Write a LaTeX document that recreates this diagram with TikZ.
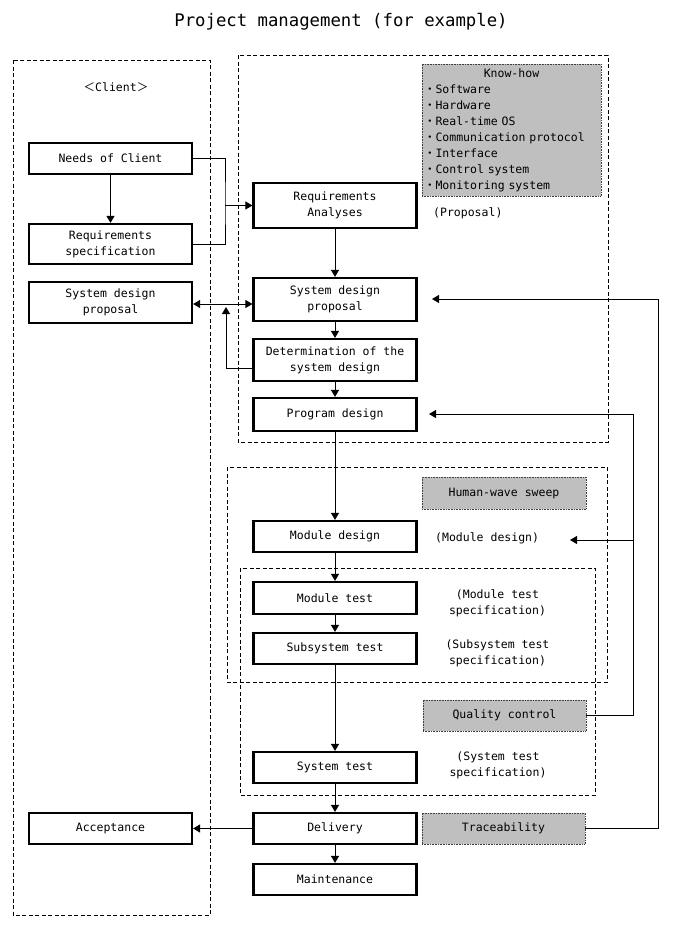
\documentclass[tikz,border=0pt]{standalone}
\usepackage{fontspec}
\setmainfont{DejaVu Sans Mono}
\newfontfamily\cjk{Noto Sans CJK JP}
\usetikzlibrary{arrows.meta}
\newcommand\diafont{\fontsize{11.5}{16}\selectfont}
\begin{document}
\begin{tikzpicture}[x=1pt,y=-1pt,
  box/.style={draw, line width=2.2pt, fill=white, minimum width=163pt, align=center, inner sep=0pt, font=\diafont},
  gbox/.style={draw=black!75, densely dotted, line width=0.6pt, fill=black!25, inner sep=0pt, font=\diafont, align=center},
  dbox/.style={draw, line width=0.8pt, dash pattern=on 4pt off 2.5pt},
  lbl/.style={font=\diafont, align=center, inner sep=0pt},
  conn/.style={line width=0.9pt},
  arr/.style={conn, -{Triangle[length=7pt,width=8pt]}},
  darr/.style={conn, {Triangle[length=7pt,width=8pt]}-{Triangle[length=7pt,width=8pt]}}
]
\useasboundingbox (0,0) rectangle (680,930);

% title
\node[font=\fontsize{17.3}{20}\selectfont] (title) at (341,22) {Project management (for example)};

% dashed groups
\draw[dbox] (13,60) rectangle (210,915);
\draw[dbox] (238,55) rectangle (608,442);
\draw[dbox] (227,467) rectangle (607,682);
\draw[dbox] (240,568) rectangle (595,795);

% client column
\node[lbl] (client) at (116,87) {{\cjk ＜}Client{\cjk ＞}};
\node[box, minimum height=31pt] (needs) at (110.5,158.5) {Needs of Client};
\node[box, minimum height=40pt] (spec) at (110.5,244) {Requirements\\specification};
\node[box, minimum height=41pt] (sdpL) at (110.5,302.5) {System design\\proposal};
\node[box, minimum height=31pt] (acc) at (110.5,828.5) {Acceptance};

% main column
\node[box, minimum height=45pt] (ra) at (335,205.5) {Requirements\\Analyses};
\node[box, minimum height=43pt] (sdp) at (335,299.5) {System design\\proposal};
\node[box, minimum height=42pt] (det) at (335,360) {Determination of the\\system design};
\node[box, minimum height=33pt] (pd) at (335,414.5) {Program design};
\node[box, minimum height=31pt] (md) at (335,536.5) {Module design};
\node[box, minimum height=32pt] (mt) at (335,598) {Module test};
\node[box, minimum height=31pt] (sst) at (335,648.5) {Subsystem test};
\node[box, minimum height=31pt] (st) at (335,767.5) {System test};
\node[box, minimum height=31pt] (del) at (335,828.5) {Delivery};
\node[box, minimum height=31pt] (mnt) at (335,879.5) {Maintenance};

% grey boxes
\node[gbox, minimum width=179pt, minimum height=132pt, text width=175pt, align=left, inner xsep=2pt] (kh) at (511.5,130)
 {\makebox[\linewidth]{Know-how}\\
  {\cjk ・}Software\\
  {\cjk ・}Hardware\\
  {\cjk ・}Real-time OS\\
  {\cjk ・}Communication protocol\\
  {\cjk ・}Interface\\
  {\cjk ・}Control system\\
  {\cjk ・}Monitoring system};
\node[gbox, minimum width=164pt, minimum height=32pt] (hws) at (504,493) {Human-wave sweep};
\node[gbox, minimum width=163pt, minimum height=31pt] (qc) at (504.5,715.5) {Quality control};
\node[gbox, minimum width=163pt, minimum height=31pt] (trace) at (503.5,828.5) {Traceability};

% side labels
\node[lbl, anchor=west] (lprop) at (433,213) {(Proposal)};
\node[lbl, anchor=west] (lmd) at (435,538) {(Module design)};
\node[lbl] (lmt) at (497.5,603) {(Module test\\specification)};
\node[lbl] (lsst) at (497.5,653) {(Subsystem test\\specification)};
\node[lbl] (lst) at (498,765) {(System test\\specification)};

% client-side connectors
\draw[arr] (needs) -- (spec);
\coordinate (jn) at (225,205.5);
\draw[conn] (needs.east) -| (jn) |- (spec.east);
\draw[arr] (jn) -- (ra.west);
\coordinate (dy) at (0,304);
\draw[darr] (sdpL.east |- dy) -- (sdp.west |- dy);
\coordinate (dfy) at (0,368);
\coordinate (dfb) at (226,307);
\draw[arr] (det.west |- dfy) -| (dfb);

% main flow
\draw[arr] (ra) -- (sdp);
\draw[arr] (sdp) -- (det);
\draw[arr] (det) -- (pd);
\draw[arr] (pd) -- (md);
\draw[arr] (md) -- (mt);
\draw[arr] (mt) -- (sst);
\draw[arr] (sst) -- (st);
\draw[arr] (st) -- (del);
\draw[arr] (del) -- (mnt);
\draw[arr] (del) -- (acc);

% feedback lines
\coordinate (tsy) at (658,299);
\coordinate (sdpin) at (432,299);
\draw[arr] (trace.east) -| (tsy) -- (sdpin);
\coordinate (qcy) at (633,414);
\coordinate (pdin) at (429,414);
\draw[arr] (qc.east) -| (qcy) -- (pdin);
\coordinate (mbr) at (633,540);
\coordinate (mdin) at (570,540);
\draw[arr] (mbr) -- (mdin);
\end{tikzpicture}
\end{document}
